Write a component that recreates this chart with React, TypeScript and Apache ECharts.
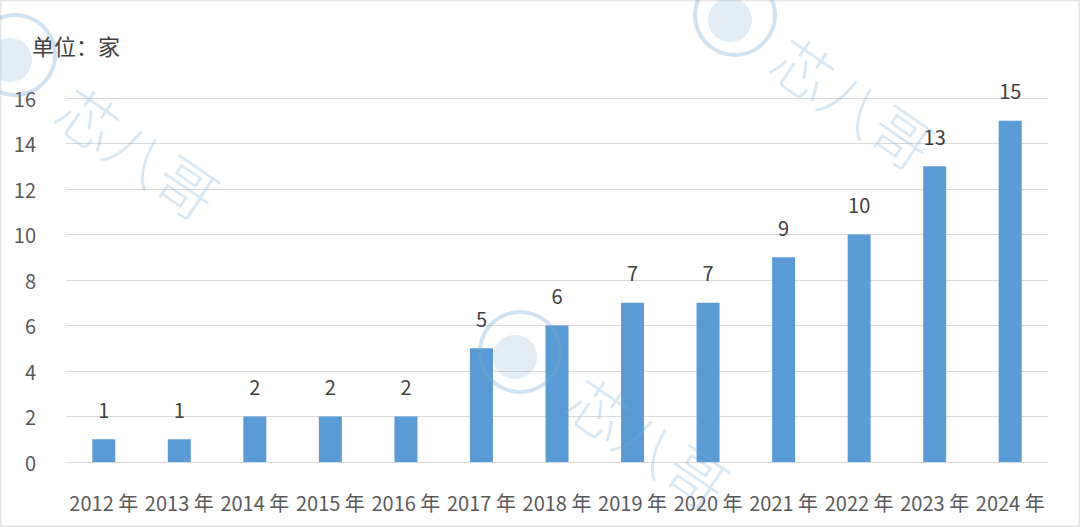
import React, { useEffect, useRef } from "react";
import * as echarts from "echarts";

const categories = ["2012 年", "2013 年", "2014 年", "2015 年", "2016 年", "2017 年", "2018 年", "2019 年", "2020 年", "2021 年", "2022 年", "2023 年", "2024 年"];
const counts = [1, 1, 2, 2, 2, 5, 6, 7, 7, 9, 10, 13, 15];
const unitLabel = "单位：家";
const watermarkText = "芯八哥";

const FONT = "'Noto Sans CJK SC', 'Noto Sans', sans-serif";

function watermark(cx: number, cy: number, tx: number, ty: number) {
  return [
    {
      type: "circle",
      shape: { cx, cy, r: 40 },
      style: { fill: "rgba(0,0,0,0)", stroke: "rgba(120,170,210,0.35)", lineWidth: 4 },
      silent: true,
      z: 100,
    },
    {
      type: "circle",
      shape: { cx: cx - 5, cy: cy + 5, r: 22 },
      style: { fill: "rgba(120,170,210,0.22)" },
      silent: true,
      z: 100,
    },
    {
      type: "text",
      x: tx,
      y: ty,
      rotation: -0.6,
      style: {
        text: watermarkText,
        font: `300 60px ${FONT}`,
        fill: "rgba(120,170,210,0.28)",
        textVerticalAlign: "middle",
        letterSpacing: 2,
      },
      silent: true,
      z: 100,
    },
  ];
}

export default function App() {
  const ref = useRef<HTMLDivElement>(null);
  useEffect(() => {
    if (!ref.current) return;
    const chart = echarts.init(ref.current, undefined, { renderer: "svg" });
    chart.setOption({
      animation: false,
      backgroundColor: "#ffffff",
      grid: { left: 66, right: 32, top: 98, bottom: 65, containLabel: false },
      xAxis: {
        type: "category",
        data: categories,
        axisLine: { show: true, lineStyle: { color: "#d9d9d9", width: 1 } },
        axisTick: { show: false },
        axisLabel: {
          color: "#595959",
          fontSize: 20,
          fontFamily: FONT,
          margin: 30,
          interval: 0,
        },
      },
      yAxis: {
        type: "value",
        min: 0,
        max: 16,
        interval: 2,
        axisLine: { show: false },
        axisTick: { show: false },
        splitLine: { lineStyle: { color: "#d9d9d9", width: 1 } },
        axisLabel: {
          color: "#595959",
          fontSize: 20,
          fontFamily: FONT,
          margin: 30,
        },
      },
      series: [
        {
          type: "bar",
          data: counts,
          barWidth: 23,
          itemStyle: { color: "#5b9bd5" },
          label: {
            show: true,
            position: "top",
            distance: 20,
            color: "#404040",
            fontSize: 20,
            fontFamily: FONT,
          },
        },
      ],
      graphic: [
        {
          type: "rect",
          shape: { x: 0.5, y: 0.5, width: 1079, height: 526 },
          style: { fill: "rgba(0,0,0,0)", stroke: "#e6e6e6", lineWidth: 2 },
          silent: true,
        },
        {
          type: "text",
          left: 32,
          top: 34,
          style: {
            text: unitLabel,
            font: `22px ${FONT}`,
            fill: "#404040",
          },
        },
        ...watermark(15, 55, 65, 100),
        ...watermark(735, 15, 780, 50),
        ...watermark(520, 352, 575, 390),
      ],
    });
    return () => chart.dispose();
  }, []);
  return (
    <div
      ref={ref}
      style={{ position: "fixed", left: 0, top: 0, width: 1080, height: 527 }}
    />
  );
}
